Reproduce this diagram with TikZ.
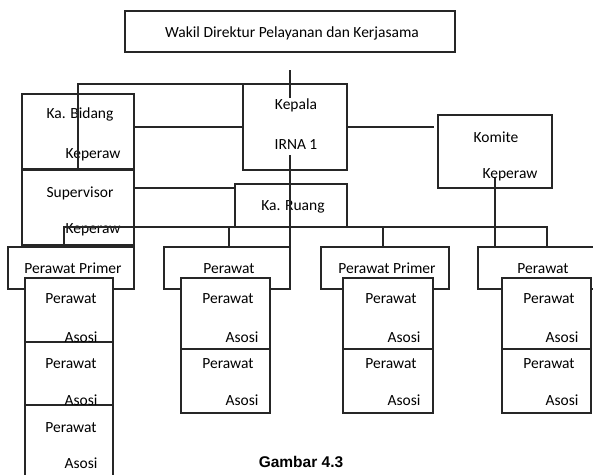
\documentclass[tikz,border=0pt]{standalone}
\usepackage{fontspec}
\setmainfont{Carlito}
\newfontfamily\capfont{Liberation Sans}
\begin{document}
\begin{tikzpicture}[x=1pt,y=-1pt,
  box/.style={draw=black!85,line width=1.8pt,inner sep=0pt,outer sep=0pt,anchor=north west,fill=white},
  lbl/.style={inner sep=0pt,text height=10pt,text depth=0pt,font=\fontsize{15.5}{18}\selectfont,text=black},
  conn/.style={draw=black!85,line width=1.6pt}]
\useasboundingbox (0,0) rectangle (593,474);
\begin{scope}
\clip (0,0) rectangle (593,474);
% top level boxes
\node[box,minimum width=330pt,minimum height=41pt] (wakil) at (125,11) {};
\node[box,minimum width=112pt,minimum height=75pt] (bidang) at (22,94) {};
\node[box,minimum width=112pt,minimum height=75pt] (super) at (22,170) {};
\node[box,minimum width=104pt,minimum height=86pt] (kepala) at (243,84) {};
\node[box,minimum width=112pt,minimum height=43pt] (ruang) at (235,184) {};
\node[box,minimum width=114pt,minimum height=73pt] (komite) at (438,115) {};
% perawat row
\node[box,minimum width=126pt,minimum height=42pt] (p1) at (8,247) {};
\node[box,minimum width=126pt,minimum height=42pt] (p2) at (164,247) {};
\node[box,minimum width=128pt,minimum height=42pt] (p3) at (321,247) {};
\node[box,minimum width=130pt,minimum height=42pt] (p4) at (478,247) {};
% asosi boxes
\node[box,minimum width=88pt,minimum height=64pt] (a11) at (25,278) {};
\node[box,minimum width=88pt,minimum height=63pt] (a12) at (25,342) {};
\node[box,minimum width=88pt,minimum height=80pt] (a13) at (25,405) {};
\node[box,minimum width=89pt,minimum height=71pt] (a21) at (181,278) {};
\node[box,minimum width=89pt,minimum height=64pt] (a22) at (181,349) {};
\node[box,minimum width=90pt,minimum height=71pt] (a31) at (343,278) {};
\node[box,minimum width=90pt,minimum height=64pt] (a32) at (343,349) {};
\node[box,minimum width=89pt,minimum height=71pt] (a41) at (502,278) {};
\node[box,minimum width=89pt,minimum height=64pt] (a42) at (502,349) {};
% texts
\node[lbl] (twakil) at (292,32) {Wakil Direktur Pelayanan dan Kerjasama};
\node[lbl] (tbid1) at (80,113) {Ka. Bidang};
\node[lbl] (tbid2) at (93,153) {Keperaw};
\node[lbl] (tkep1) at (296,104) {Kepala};
\node[lbl] (tkep2) at (296,144) {IRNA 1};
\node[lbl] (tkom1) at (496,137) {Komite};
\node[lbl] (tkom2) at (510,173) {Keperaw};
\node[lbl] (tsup1) at (80,192) {Supervisor};
\node[lbl] (tsup2) at (93,228) {Keperaw};
\node[lbl] (trua) at (293,205) {Ka. Ruang};
\node[lbl] (tp1) at (73,268) {Perawat Primer};
\node[lbl] (tp2) at (229,268) {Perawat};
\node[lbl] (tp3) at (387,268) {Perawat Primer};
\node[lbl] (tp4) at (543,268) {Perawat};
% column 1
\node[lbl] (t11a) at (71,298) {Perawat};
\node[lbl] (t11b) at (81,337) {Asosi};
\node[lbl] (t12a) at (71,363) {Perawat};
\node[lbl] (t12b) at (81,400) {Asosi};
\node[lbl] (t13a) at (71,427) {Perawat};
\node[lbl] (t13b) at (81,463) {Asosi};
% column 2
\node[lbl] (t21a) at (228,298) {Perawat};
\node[lbl] (t21b) at (242,337) {Asosi};
\node[lbl] (t22a) at (228,363) {Perawat};
\node[lbl] (t22b) at (242,400) {Asosi};
% column 3
\node[lbl] (t31a) at (391,298) {Perawat};
\node[lbl] (t31b) at (404,337) {Asosi};
\node[lbl] (t32a) at (391,363) {Perawat};
\node[lbl] (t32b) at (404,400) {Asosi};
% column 4
\node[lbl] (t41a) at (549,298) {Perawat};
\node[lbl] (t41b) at (562,337) {Asosi};
\node[lbl] (t42a) at (549,363) {Perawat};
\node[lbl] (t42b) at (562,400) {Asosi};
% caption
\node[inner sep=0pt,text height=11pt,text depth=0pt,font=\capfont\bfseries\fontsize{15.5}{18}\selectfont] (cap) at (301,462) {Gambar 4.3};
% connectors
\coordinate (w1) at (290,70);
\coordinate (w2) at (290,98);
\draw[conn] (w1) -- (w2);
\coordinate (b1) at (78,170);
\draw[conn] (kepala.north west) -| (b1);
\draw[conn] (kepala.west -| bidang.east) -- (kepala.west);
\coordinate (k1) at (434,127);
\draw[conn] (kepala.east) -- (k1);
\coordinate (k2) at (290,155);
\draw[conn] (k2) -- (p2.north east);
\draw[conn] (super.east |- 0,188) -- (ruang.west |- 0,188);
\draw[conn] (p1.north -| 64,0) -- (64,227) -| (p4.north -| 547,0);
\draw[conn] (p2.north -| 229,0) -- (229,227);
\draw[conn] (p3.north -| 383,0) -- (383,227);
\coordinate (c1) at (495,178);
\draw[conn] (c1) -- (p4.north -| 495,0);
\end{scope}
\end{tikzpicture}
\end{document}
